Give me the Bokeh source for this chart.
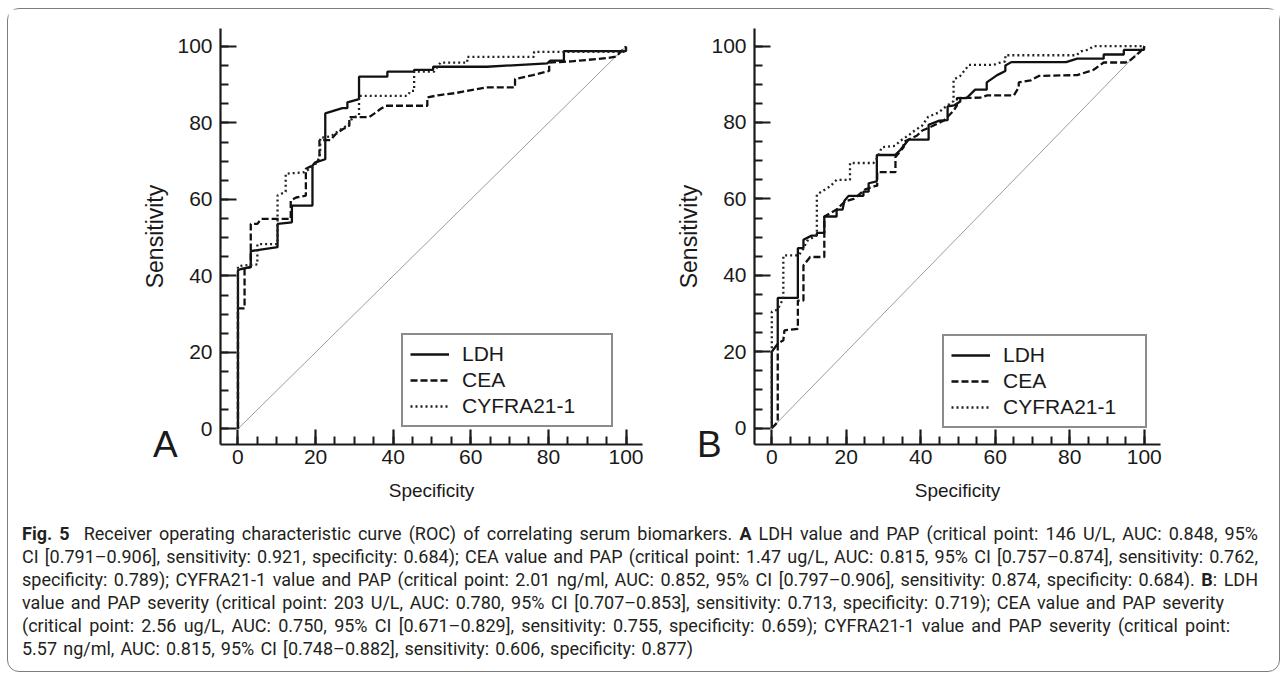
from bokeh.plotting import figure
from bokeh.models import SingleIntervalTicker, Legend, LegendItem, Div, Range1d
from bokeh.layouts import row, column
from bokeh.embed import file_html
from bokeh.resources import INLINE

# ---------------- data (specificity %, sensitivity %) ----------------
series_names = ["LDH", "CEA", "CYFRA21-1"]
panel_letters = ["A", "B"]
chance_spec = [0, 100]
chance_sens = [0, 100]

# Panel A
a_ldh_spec = [0, 0, 0.8, 3.3, 3.3, 10.2, 10.2, 13.9, 13.9, 19.2, 19.2, 19.8, 22.5, 22.5, 26.9, 28.2, 28.2,
              31.2, 31.2, 38.5, 38.5, 45.4, 45.4, 50.3, 50.3, 64.2, 79.7, 80.5, 84.0, 84.0, 100, 100]
a_ldh_sens = [0, 41.5, 41.8, 42.3, 46.5, 47.5, 53.6, 54.0, 58.4, 58.4, 68.8, 69.6, 70.5, 82.5, 83.9, 83.9, 85.4,
              86.2, 92.1, 92.1, 93.4, 93.4, 93.9, 93.9, 94.7, 94.7, 95.6, 96.3, 96.3, 98.8, 98.8, 100]

a_cea_spec = [0, 0, 1.7, 1.7, 3.3, 3.3, 5.0, 6.0, 13.6, 13.6, 15.0, 17.5, 17.5, 19.5, 21.0, 21.0, 23.8, 25.1,
              26.9, 28.7, 28.7, 33.8, 35.2, 36.8, 38.1, 48.8, 48.8, 52.0, 56.0, 64.0, 71.4, 71.4, 76.0, 80.2,
              80.2, 84.0, 86.0, 95.3, 97.5, 100]
a_cea_sens = [0, 31.5, 31.5, 42.0, 42.3, 53.6, 53.6, 54.9, 54.9, 59.7, 60.5, 61.0, 68.0, 69.0, 70.5, 75.5, 75.5, 77.0,
              78.3, 79.3, 81.5, 81.5, 82.5, 83.7, 84.5, 84.5, 86.7, 87.3, 87.8, 89.3, 89.3, 91.5, 92.5, 93.6,
              95.8, 96.0, 96.1, 97.0, 97.4, 100]

a_cyf_spec = [0, 0, 1.2, 5.0, 5.0, 10.2, 10.2, 12.3, 12.3, 17.1, 19.2, 20.5, 21.2, 21.2, 24.0, 26.0, 28.5, 29.5,
              31.2, 31.2, 43.7, 44.5, 45.4, 45.4, 50.5, 52.2, 59.1, 59.1, 76.3, 76.3, 100, 100]
a_cyf_sens = [0, 42.5, 42.7, 43.0, 48.3, 48.3, 61.0, 62.0, 66.7, 67.1, 68.5, 69.8, 72.0, 76.1, 76.5, 78.0, 79.6, 81.3,
              82.0, 87.1, 87.1, 88.4, 88.4, 93.4, 93.4, 95.8, 95.8, 97.3, 97.3, 98.6, 98.6, 100]

# Panel B
b_ldh_spec = [0, 0, 1.6, 1.6, 7.0, 7.0, 8.5, 8.5, 10.7, 12.1, 12.1, 14.1, 14.1, 17.4, 17.4, 19.0, 19.5, 20.6,
              24.6, 24.6, 26.0, 26.0, 28.2, 28.2, 33.1, 34.5, 36.7, 42.1, 42.1, 45.0, 47.2, 47.2, 49.0, 50.6,
              50.6, 52.3, 54.6, 57.7, 57.7, 60.5, 62.7, 62.7, 64.3, 79.0, 82.0, 89.1, 89.1, 94.5, 94.5, 99.9, 100]
b_ldh_sens = [0, 20.0, 22.1, 34.1, 34.1, 47.1, 47.1, 49.3, 50.4, 50.4, 51.1, 51.1, 55.4, 55.4, 57.2, 57.2, 59.5, 60.8,
              60.8, 61.9, 61.9, 64.1, 64.6, 71.5, 71.5, 72.8, 75.5, 75.5, 79.4, 80.5, 80.6, 84.2, 84.5, 85.5,
              86.4, 86.4, 88.6, 88.6, 90.5, 92.4, 93.5, 94.9, 95.8, 95.8, 96.7, 96.7, 97.8, 97.8, 99.0, 99.0, 100]

b_cea_spec = [0, 1.6, 1.6, 3.1, 3.4, 7.0, 7.0, 8.5, 8.5, 10.3, 14.1, 14.1, 17.4, 19.7, 22.0, 25.1, 27.8, 28.3,
              28.3, 33.2, 33.2, 35.4, 35.4, 39.0, 40.4, 43.0, 46.2, 48.9, 49.7, 49.7, 56.0, 57.8, 65.0, 66.3,
              66.3, 69.5, 71.7, 82.0, 86.4, 89.1, 95.0, 96.5, 99.0, 100]
b_cea_sens = [0, 1.6, 22.1, 23.0, 25.6, 26.0, 33.4, 33.4, 42.6, 44.8, 44.8, 55.4, 57.2, 59.4, 60.0, 62.5, 63.4, 63.4,
              67.0, 67.0, 71.0, 73.5, 74.9, 76.6, 77.9, 79.0, 80.5, 83.2, 84.5, 86.4, 86.5, 87.1, 87.1, 89.2,
              90.5, 91.0, 92.2, 92.4, 93.8, 95.7, 95.7, 96.5, 98.6, 100]

b_cyf_spec = [0, 0, 1.5, 3.1, 3.1, 7.2, 8.5, 9.5, 12.1, 12.1, 13.5, 15.7, 17.4, 21.0, 21.0, 27.3, 28.5, 29.5,
              33.1, 34.5, 36.5, 38.5, 40.3, 42.0, 44.8, 46.5, 48.8, 48.8, 50.6, 52.3, 52.9, 59.6, 61.0, 62.7,
              62.7, 81.8, 83.0, 85.1, 86.4, 100]
b_cyf_sens = [0, 30.5, 31.0, 33.9, 45.2, 45.2, 47.0, 49.0, 50.5, 61.1, 62.0, 63.3, 65.0, 65.0, 69.4, 69.4, 71.0, 73.5,
              73.9, 75.2, 76.5, 78.0, 79.1, 81.5, 82.6, 84.0, 85.6, 91.2, 92.2, 94.3, 95.1, 95.1, 95.6, 96.0,
              97.6, 97.6, 98.6, 99.1, 100, 100]

caption_lines = [
    '<b>Fig. 5</b>&nbsp; Receiver operating characteristic curve (ROC) of correlating serum biomarkers. <b>A</b> LDH value and PAP (critical point: 146 U/L, AUC: 0.848, 95%',
    'CI [0.791\u20130.906], sensitivity: 0.921, specificity: 0.684); CEA value and PAP (critical point: 1.47 ug/L, AUC: 0.815, 95% CI [0.757\u20130.874], sensitivity: 0.762,',
    'specificity: 0.789); CYFRA21-1 value and PAP (critical point: 2.01 ng/ml, AUC: 0.852, 95% CI [0.797\u20130.906], sensitivity: 0.874, specificity: 0.684). <b>B</b>: LDH',
    'value and PAP severity (critical point: 203 U/L, AUC: 0.780, 95% CI [0.707\u20130.853], sensitivity: 0.713, specificity: 0.719); CEA value and PAP severity',
    '(critical point: 2.56 ug/L, AUC: 0.750, 95% CI [0.671\u20130.829], sensitivity: 0.755, specificity: 0.659); CYFRA21-1 value and PAP severity (critical point:',
    '5.57 ng/ml, AUC: 0.815, 95% CI [0.748\u20130.882], sensitivity: 0.606, specificity: 0.877)',
]
caption_line_widths = [1236, 1236, 1236, 1202, 1208, 671]

FONT = "Liberation Sans"
INK = "#1a1a1a"


def make_panel(xr, yr, width, mb_left, mb_right, mb_top, mb_bottom, data, legend_loc, label_w):
    p = figure(width=width, height=505, x_range=Range1d(*xr), y_range=Range1d(*yr),
               output_backend="svg", toolbar_location=None,
               min_border_left=mb_left, min_border_right=mb_right,
               min_border_top=mb_top, min_border_bottom=mb_bottom)
    p.grid.visible = False
    p.outline_line_color = None
    p.background_fill_color = "white"
    p.border_fill_color = "white"

    for ax in (p.xaxis[0], p.yaxis[0]):
        ax.ticker = SingleIntervalTicker(interval=20, num_minor_ticks=4)
        ax.major_tick_out = 0
        ax.minor_tick_out = 0
        ax.minor_tick_in = 8
        ax.axis_line_width = 2.2
        ax.major_tick_line_width = 2.2
        ax.minor_tick_line_width = 2
        ax.axis_line_color = INK
        ax.major_tick_line_color = INK
        ax.minor_tick_line_color = INK
        ax.major_label_text_font = FONT
        ax.major_label_text_font_size = "21px"
        ax.major_label_text_color = INK
        ax.axis_label_text_font = FONT
        ax.axis_label_text_font_style = "normal"
        ax.axis_label_text_color = INK
    p.xaxis.major_tick_in = 15
    p.yaxis.major_tick_in = 16
    p.xaxis.major_label_standoff = 5
    p.yaxis.major_label_standoff = 8
    p.xaxis.axis_label = "Specificity"
    p.yaxis.axis_label = "Sensitivity"
    p.xaxis.axis_label_text_font_size = "19px"
    p.yaxis.axis_label_text_font_size = "23px"
    p.xaxis.axis_label_standoff = 13
    p.yaxis.axis_label_standoff = 6

    p.line(chance_spec, chance_sens, line_color="#9c9c9c", line_width=1)

    (l_x, l_y), (c_x, c_y), (y_x, y_y) = data
    r1 = p.line(l_x, l_y, line_color="#111111", line_width=2.3)
    r2 = p.line(c_x, c_y, line_color="#111111", line_width=2.3, line_dash="7 3")
    r3 = p.line(y_x, y_y, line_color="#222222", line_width=2.3, line_dash="2 3")

    legend = Legend(items=[LegendItem(label=series_names[0], renderers=[r1]),
                           LegendItem(label=series_names[1], renderers=[r2]),
                           LegendItem(label=series_names[2], renderers=[r3])],
                    location=legend_loc)
    legend.border_line_color = INK
    legend.border_line_width = 2
    legend.padding = 7
    legend.spacing = 2
    legend.margin = 0
    legend.glyph_width = 39
    legend.glyph_height = 20
    legend.label_height = 20
    legend.label_width = label_w
    legend.label_standoff = 13
    legend.label_text_font = FONT
    legend.label_text_font_size = "21px"
    legend.label_text_color = INK
    legend.background_fill_color = "white"
    legend.background_fill_alpha = 1
    p.add_layout(legend)
    return p


pA = make_panel((-4.5, 104.25), (-4.1, 104.7), 645, 212, 11, 18, 70,
                ((a_ldh_spec, a_ldh_sens), (a_cea_spec, a_cea_sens), (a_cyf_spec, a_cyf_sens)),
                (181, 17), 142)
pB = make_panel((-4.64, 104.35), (-4.27, 104.6), 626, 101, 119, 19, 70,
                ((b_ldh_spec, b_ldh_sens), (b_cea_spec, b_cea_sens), (b_cyf_spec, b_cyf_sens)),
                (188, 16), 135)

letter_style = ("position:absolute;top:-88px;font-family:'Liberation Sans',sans-serif;font-size:37px;"
                "line-height:38px;color:#1a1a1a;")
line_divs = []
for ln, w in zip(caption_lines, caption_line_widths):
    st = "width:%dpx;text-align:justify;text-align-last:justify;white-space:nowrap;" % w
    line_divs.append('<div style="%s">%s</div>' % (st, ln))

caption_html = (
    '<div style="position:relative;width:1269px;height:157px;">'
    + '<span style="%sleft:145px;">%s</span>' % (letter_style, panel_letters[0])
    + '<span style="%sleft:689px;">%s</span>' % (letter_style, panel_letters[1])
    + '<div style="position:absolute;left:14px;top:8px;font-family:Roboto,sans-serif;font-size:18px;'
      'line-height:23px;color:#231f20;">'
    + "".join(line_divs) + "</div></div>"
)
cap = Div(text=caption_html, width=1269, height=157, margin=0)

layout = column(row(pA, pB), cap, margin=(8, 0, 0, 7),
                styles={"border": "1px solid #7d7d7d", "border-radius": "12px", "background": "white"})

open("out.html", "w").write(file_html(layout, INLINE))
